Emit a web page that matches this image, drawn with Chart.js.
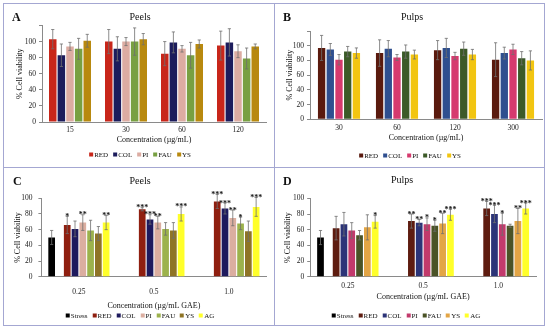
<!DOCTYPE html>
<html>
<head>
<meta charset="utf-8">
<script src="https://cdn.jsdelivr.net/npm/chart.js@4.4.0/dist/chart.umd.min.js"></script>
<style>
body { margin: 0; width: 550px; height: 332px; background: #fff; position: relative; overflow: hidden; font-family: 'Liberation Serif', serif; color: #111; }
canvas { position: absolute; }
.frame { position: absolute; left: 3px; top: 3px; width: 540px; height: 321px; border: 1px solid #a4a7d2; }
.vline { position: absolute; left: 274px; top: 3px; width: 1px; height: 323px; background: #a4a7d2; }
.hline { position: absolute; left: 3px; top: 167px; width: 542px; height: 1px; background: #a4a7d2; }
.tag { position: absolute; font-weight: bold; font-size: 12px; line-height: 12px; }
.ttl { position: absolute; font-size: 10px; line-height: 10px; transform: translateX(-50%); white-space: nowrap; }
.lgd { position: absolute; display: flex; gap: 5px; font-size: 7px; line-height: 7px; transform: translate(-50%, -50%); white-space: nowrap; align-items: center; }
.lgd i { display: inline-block; width: 4px; height: 4px; margin-right: 1px; }
</style>
</head>
<body>
<canvas id="chartA" width="274" height="167" style="left:0;top:0"></canvas>
<canvas id="chartB" width="276" height="167" style="left:274px;top:0"></canvas>
<canvas id="chartC" width="274" height="165" style="left:0;top:167px"></canvas>
<canvas id="chartD" width="276" height="165" style="left:274px;top:167px"></canvas>

<div class="frame"></div>
<div class="vline"></div>
<div class="hline"></div>

<div class="tag" style="left:12px;top:10.7px">A</div>
<div class="tag" style="left:283px;top:11px">B</div>
<div class="tag" style="left:13px;top:175px">C</div>
<div class="tag" style="left:283px;top:175px">D</div>

<div class="ttl" style="left:140px;top:12.3px">Peels</div>
<div class="ttl" style="left:412px;top:11.6px">Pulps</div>
<div class="ttl" style="left:140px;top:175.6px">Peels</div>
<div class="ttl" style="left:402px;top:175px">Pulps</div>

<div class="lgd" id="legA" style="left:140px;top:155px"></div>
<div class="lgd" id="legB" style="left:410px;top:156px"></div>
<div class="lgd" id="legC" style="left:140px;top:315.7px"></div>
<div class="lgd" id="legD" style="left:406px;top:315.7px"></div>

<script>
// categories
const concPeels = ['15', '30', '60', '120'];
const concPulps = ['30', '60', '120', '300'];
const concGAE = ['0.25', '0.5', '1.0'];

// A - peels, viability (means and sd)
const aRed = [103, 100, 85, 95];
const aRedSd = [12, 15, 15, 18];
const aCol = [83, 91, 99, 99];
const aColSd = [14, 15, 13, 17];
const aPi = [94, 100, 91, 88];
const aPiSd = [5, 5, 4, 8];
const aFau = [91, 100, 83, 79];
const aFauSd = [13, 17, 16, 13];
const aYs = [101, 103, 97, 94];
const aYsSd = [8, 7, 5, 3];

// B - pulps, viability
const bRed = [97, 90, 94, 81];
const bRedSd = [17, 18, 13, 23];
const bCol = [95, 96, 97, 90];
const bColSd = [8, 11, 13, 8];
const bPi = [81, 84, 86, 95];
const bPiSd = [7, 4, 5, 7];
const bFau = [92, 92, 96, 83];
const bFauSd = [7, 9, 9, 9];
const bYs = [90, 88, 88, 80];
const bYsSd = [7, 6, 7, 13];

// C - peels, protection under stress
const cStress = [50, null, null];
const cStressSd = [9, 0, 0];
const cRed = [66, 86, 96];
const cRedSd = [11, 2, 9];
const cCol = [61, 73, 87];
const cColSd = [10, 6, 7];
const cPi = [69, 69, 75];
const cPiSd = [10, 8, 10];
const cFau = [59, 61, 68];
const cFauSd = [13, 8, 8];
const cYs = [55, 59, 58];
const cYsSd = [9, 10, 13];
const cAg = [69, 80, 89];
const cAgSd = [9, 9, 12];
const cRedSig = ['*', '***', '***'];
const cColSig = ['', '***', '***'];
const cPiSig = ['**', '**', '**'];
const cFauSig = ['', '', '*'];
const cYsSig = ['', '', ''];
const cAgSig = ['**', '***', '***'];

// D - pulps, protection under stress
const dStress = [50, null, null];
const dStressSd = [9, 0, 0];
const dRed = [62, 71, 87];
const dRedSd = [15, 9, 9];
const dCol = [67, 69, 80];
const dColSd = [15, 4, 11];
const dPi = [59, 67, 67];
const dPiSd = [10, 8, 14];
const dFau = [53, 65, 65];
const dFauSd = [6, 7, 2];
const dYs = [63, 68, 71];
const dYsSd = [16, 13, 16];
const dAg = [70, 79, 87];
const dAgSd = [8, 7, 7];
const dRedSig = ['', '**', '***'];
const dColSig = ['', '**', '***'];
const dPiSig = ['', '*', '*'];
const dFauSig = ['', '*', ''];
const dYsSig = ['', '**', '**'];
const dAgSig = ['*', '***', '***'];

const FONT = "'Liberation Serif', serif";

// error bars + significance stars
const errPlugin = {
    id: 'errbars',
    afterDatasetsDraw(chart) {
        const ctx = chart.ctx;
        const y = chart.scales.y;
        ctx.save();
        chart.data.datasets.forEach((ds, i) => {
            if (!ds.sd) return;
            const meta = chart.getDatasetMeta(i);
            meta.data.forEach((bar, j) => {
                const v = ds.data[j];
                if (v === null || v === undefined) return;
                const e = ds.sd[j] || 0;
                const top = y.getPixelForValue(v + e);
                const bot = y.getPixelForValue(v - e);
                ctx.strokeStyle = '#6e6e6e';
                ctx.lineWidth = 0.8;
                ctx.beginPath();
                ctx.moveTo(bar.x, top); ctx.lineTo(bar.x, bot);
                ctx.moveTo(bar.x - 1.6, top); ctx.lineTo(bar.x + 1.6, top);
                ctx.moveTo(bar.x - 1.6, bot); ctx.lineTo(bar.x + 1.6, bot);
                ctx.stroke();
                if (ds.sig && ds.sig[j]) {
                    ctx.fillStyle = '#111';
                    ctx.font = 'bold 8px ' + FONT;
                    ctx.textAlign = 'center';
                    ctx.textBaseline = 'alphabetic';
                    ctx.fillText(ds.sig[j], bar.x, top + 2.5);
                }
            });
        });
        ctx.restore();
    }
};

function set(label, data, sd, color, sig) {
    return { label, data, sd, sig, backgroundColor: color, borderWidth: 0 };
}

function buildChart(id, labels, datasets, box, xTitle) {
    const el = document.getElementById(id);
    const W = el.width, H = el.height;
    const tickFont = { family: FONT, size: 7.5 };
    const titleFont = { family: FONT, size: 8 };
    return new Chart(el, {
        type: 'bar',
        data: { labels, datasets },
        options: {
            responsive: false,
            animation: false,
            layout: { padding: { left: 0, top: box.T, right: W - box.R, bottom: box.pb } },
            plugins: { legend: { display: false }, tooltip: { enabled: false } },
            datasets: { bar: { categoryPercentage: box.cat, barPercentage: box.bar } },
            scales: {
                x: {
                    grid: { display: false, drawTicks: false },
                    border: { color: '#8a8a8a', width: 1 },
                    ticks: { font: tickFont, color: '#222', padding: box.tp, maxRotation: 0 },
                    title: { display: true, text: xTitle, font: titleFont, color: '#111', padding: { top: 0, bottom: box.xtp } },
                    afterFit: s => { s.height = H - box.pb - box.B; }
                },
                y: {
                    min: 0, max: box.max,
                    grid: { drawOnChartArea: false, tickLength: 3, color: '#8a8a8a' },
                    border: { color: '#8a8a8a', width: 1 },
                    ticks: { stepSize: 20, font: tickFont, color: '#222', padding: box.yp, callback: v => v > 100 ? '' : v },
                    title: { display: true, text: '% Cell viability', font: titleFont, color: '#111', padding: { top: box.ytp, bottom: 0 } },
                    afterFit: s => { s.width = box.L; }
                }
            }
        },
        plugins: [errPlugin]
    });
}

function legend(id, datasets) {
    const box = document.getElementById(id);
    datasets.filter(d => d.label).forEach(d => {
        const s = document.createElement('span');
        s.innerHTML = `<i style="background:${d.backgroundColor}"></i>${d.label}`;
        box.appendChild(s);
    });
}

const dsA = [
    set('RED', aRed, aRedSd, '#c8261a'),
    set('COL', aCol, aColSd, '#1c1c5c'),
    set('PI', aPi, aPiSd, '#dcaca2'),
    set('FAU', aFau, aFauSd, '#78a042'),
    set('YS', aYs, aYsSd, '#b8890f')
];
const dsB = [
    set('RED', bRed, bRedSd, '#5a1a0e'),
    set('COL', bCol, bColSd, '#2f4f8f'),
    set('PI', bPi, bPiSd, '#d63a6e'),
    set('FAU', bFau, bFauSd, '#3c5a28'),
    set('YS', bYs, bYsSd, '#f2c511')
];
const dsC = [
    set('Stress', cStress, cStressSd, '#000000'),
    set('', [null, null, null], null, 'rgba(0,0,0,0)'),
    set('RED', cRed, cRedSd, '#8f1f10', cRedSig),
    set('COL', cCol, cColSd, '#1e1a5e', cColSig),
    set('PI', cPi, cPiSd, '#dbaea0', cPiSig),
    set('FAU', cFau, cFauSd, '#9cb24c', cFauSig),
    set('YS', cYs, cYsSd, '#8f7426', cYsSig),
    set('AG', cAg, cAgSd, '#ffff2a', cAgSig)
];
const dsD = [
    set('Stress', dStress, dStressSd, '#000000'),
    set('', [null, null, null], null, 'rgba(0,0,0,0)'),
    set('RED', dRed, dRedSd, '#5e1c10', dRedSig),
    set('COL', dCol, dColSd, '#2c3478', dColSig),
    set('PI', dPi, dPiSd, '#c23a6c', dPiSig),
    set('FAU', dFau, dFauSd, '#4a5326', dFauSig),
    set('YS', dYs, dYsSd, '#e3a545', dYsSig),
    set('AG', dAg, dAgSd, '#ffff2a', dAgSig)
];

buildChart('chartA', concPeels, dsA,
    { L: 42, T: 25.5, R: 266, B: 122, pb: 22, max: 120, cat: 0.77, bar: 0.87, tp: 4, xtp: 0, yp: 3, ytp: 15 },
    'Concentration (µg/mL)');
buildChart('chartB', concPulps, dsB,
    { L: 36, T: 31, R: 268, B: 119.3, pb: 22, max: 120, cat: 0.75, bar: 0.84, tp: 4, xtp: 2.7, yp: 3, ytp: 11 },
    'Concentration (µg/mL)');
buildChart('chartC', concGAE, dsC,
    { L: 41.4, T: 31.3, R: 266.4, B: 109.7, pb: 20, max: 100, cat: 0.83, bar: 0.86, tp: 11, xtp: 1.5, yp: 6, ytp: 13 },
    'Concentration (µg/mL GAE)');
buildChart('chartD', concGAE, dsD,
    { L: 36.2, T: 31.3, R: 262, B: 109.8, pb: 20, max: 100, cat: 0.83, bar: 0.86, tp: 5, xtp: 10.5, yp: 3, ytp: 9 },
    'Concentration (µg/mL GAE)');

legend('legA', dsA);
legend('legB', dsB);
legend('legC', dsC);
legend('legD', dsD);
</script>
</body>
</html>
